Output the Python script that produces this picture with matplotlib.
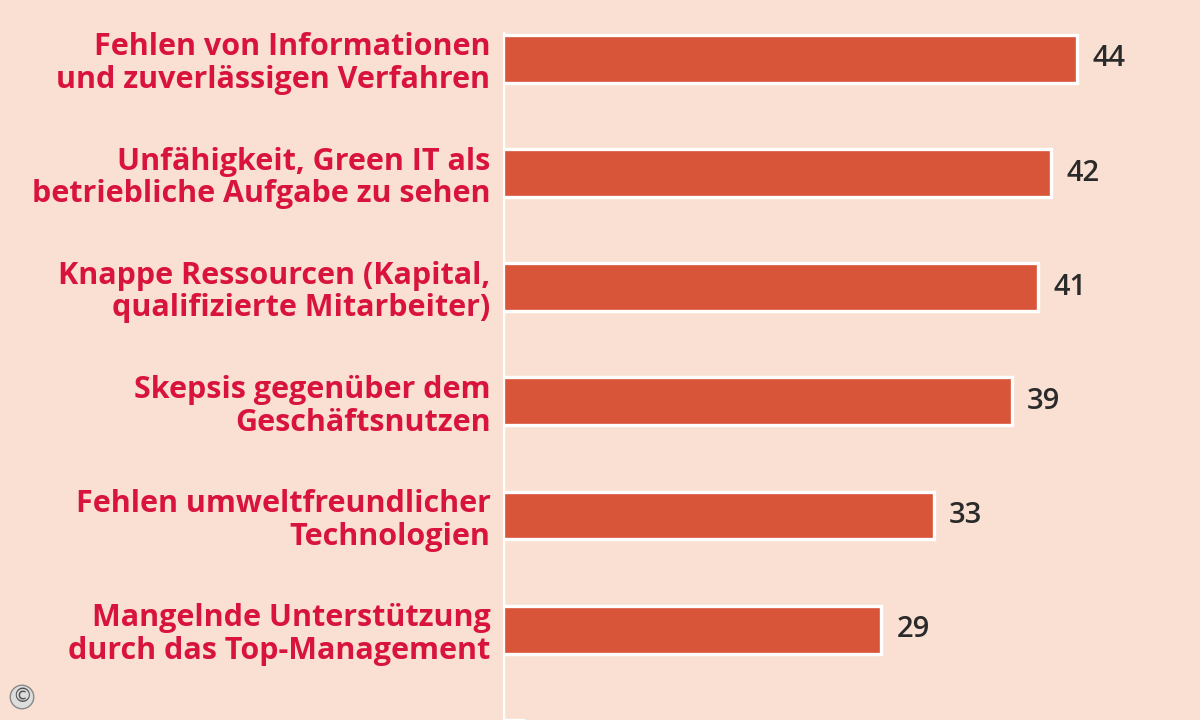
import matplotlib
matplotlib.use("Agg")
import matplotlib.pyplot as plt

categories = [
    "Fehlen von Informationen\nund zuverlässigen Verfahren",
    "Unfähigkeit, Green IT als\nbetriebliche Aufgabe zu sehen",
    "Knappe Ressourcen (Kapital,\nqualifizierte Mitarbeiter)",
    "Skepsis gegenüber dem\nGeschäftsnutzen",
    "Fehlen umweltfreundlicher\nTechnologien",
    "Mangelnde Unterstützung\ndurch das Top-Management",
    "",
]
values = [44, 42, 41, 39, 33, 29, 1.5]
value_labels = ["44", "42", "41", "39", "33", "29", ""]

BG = "#fae0d2"
BAR = "#d9553a"
TXT = "#d8143c"
FONT = ["Open Sans", "DejaVu Sans"]

fig = plt.figure(figsize=(12, 7.2), dpi=100, facecolor=BG)
ax = fig.add_axes([503 / 1200, 0, 680 / 1200, 1])
ax.set_facecolor(BG)

pos = list(range(len(values)))
ax.barh(pos, values, height=0.42, color=BAR, edgecolor="white", linewidth=2.4, zorder=3)

for s in ["top", "right", "bottom", "left"]:
    ax.spines[s].set_visible(False)
ax.axvline(0, ymin=0, ymax=1 - 33 / 720, color="white", lw=2.5, zorder=2)

ax.set_xticks([])
ax.set_yticks(pos)
ax.set_yticklabels(categories, fontsize=22, fontweight="bold", color=TXT,
                   family=FONT, linespacing=1.12)
ax.tick_params(axis="y", length=0, pad=9)
ax.set_xlim(0, 680 / 13.05)
ax.set_ylim(662 / 114.3, -59 / 114.3)

for p, v, lab in zip(pos, values, value_labels):
    ax.annotate(lab, (v, p), xytext=(11, 0), textcoords="offset points",
                ha="left", va="center", fontsize=21, fontweight="semibold",
                color="#2a2a2a", family=FONT)

fig.text(22 / 1200, 1 - 697 / 720, "©", fontsize=14, color="#555555",
         ha="center", va="center", family=["DejaVu Sans"],
         bbox=dict(boxstyle="circle,pad=0.1", fc="#dddddd", ec="#888888", lw=1))

fig.savefig("out.png", dpi=100, facecolor=BG)
